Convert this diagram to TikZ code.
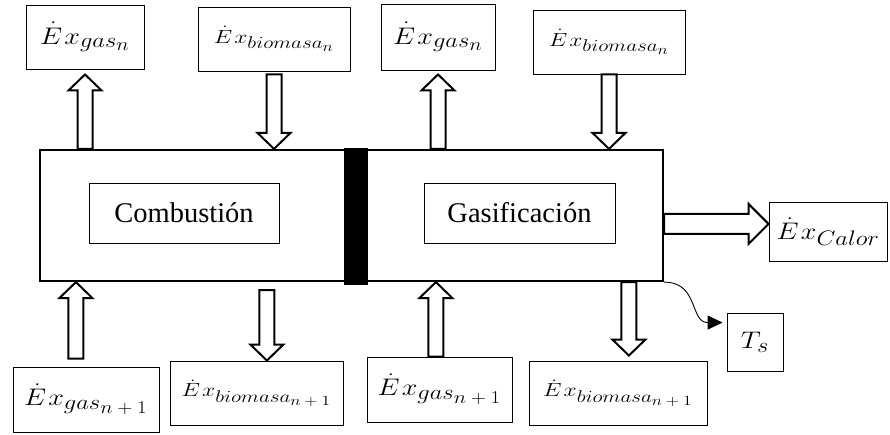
\RequirePackage{fix-cm}
\documentclass[tikz,border=0pt]{standalone}
\usepackage[no-math]{fontspec}
\setmainfont{Liberation Serif}
\newfontfamily\timesx{Liberation Serif}
\usepackage{graphicx}
\usetikzlibrary{arrows.meta,calc}
\newcommand\sbx[2]{\mbox{\fontsize{#1}{#1}\selectfont$#2$}}
\newcommand\exbig[1]{{\fontsize{24}{28}\selectfont\scalebox{1.17}[1]{$#1$}}}
\newcommand\exsmall[1]{{\fontsize{19}{22}\selectfont\scalebox{1.24}[1]{$#1$}}}
\newcommand\Ed{\dot{E}\mkern1.5mu x}
\def\sw{7.5pt}\def\hw{16.5pt}\def\hl{16pt}
\newcommand\varrow[3]{%
  \draw[blockarr] let \p1=(#1), \p2=(#2) in
    ({\x1-\sw},\y1) -- ({\x1-\sw},{\y2-(#3)*\hl}) -- ({\x1-\hw},{\y2-(#3)*\hl})
    -- (\x1,\y2) -- ({\x1+\hw},{\y2-(#3)*\hl}) -- ({\x1+\sw},{\y2-(#3)*\hl})
    -- ({\x1+\sw},\y1) -- cycle;}
\newcommand\harrow[2]{%
  \draw[blockarr] let \p1=(#1), \p2=(#2) in
    (\x1,{\y1+10pt}) -- ({\x2-20pt},{\y1+10pt}) -- ({\x2-20pt},{\y1+20pt})
    -- (\x2,\y1) -- ({\x2-20pt},{\y1-20pt}) -- ({\x2-20pt},{\y1-10pt})
    -- (\x1,{\y1-10pt}) -- cycle;}
\begin{document}
\begin{tikzpicture}[x=1pt,y=-1pt,
  box/.style={draw, line width=0.9pt, inner sep=0pt, align=center},
  blockarr/.style={draw, fill=white, line width=2pt, line join=miter},
  mainbox/.style={draw, line width=2.2pt, inner sep=0pt}]
\useasboundingbox (0,0) rectangle (890,434);
% main container
\node[mainbox, minimum width=623pt, minimum height=131pt] (main) at (351.5,215.5) {};
\node[fill=black, inner sep=0pt, minimum width=24pt, minimum height=137pt] (wall) at (356,216.5) {};
% inner process boxes
\node[box, minimum width=190pt, minimum height=60pt] (comb) at (184,213)
  {\timesx\fontsize{28.5}{32}\selectfont Combustión};
\node[box, minimum width=191pt, minimum height=60pt] (gasi) at (519.5,213)
  {\timesx\fontsize{28.5}{32}\selectfont Gasificación};
% top boxes
\node[box, minimum width=118pt, minimum height=64pt] (b1) at (85,37)
  {\exbig{\Ed_{\sbx{21}{gas_{\sbx{18}{n}}}}}};
\node[box, minimum width=152pt, minimum height=64pt] (b2) at (274,39)
  {\exsmall{\Ed_{\sbx{17}{biomasa_{\sbx{14}{n}}}}}};
\node[box, minimum width=114pt, minimum height=66pt] (b3) at (438,37)
  {\exbig{\Ed_{\sbx{21}{gas_{\sbx{18}{n}}}}}};
\node[box, minimum width=152pt, minimum height=64pt] (b4) at (609,42)
  {\exsmall{\Ed_{\sbx{17}{biomasa_{\sbx{14}{n}}}}}};
% bottom boxes
\node[box, minimum width=146pt, minimum height=65pt] (c1) at (86,399.5)
  {\exbig{\Ed_{\sbx{21}{gas_{\sbx{18}{n+1}}}}}};
\node[box, minimum width=173pt, minimum height=64pt] (c2) at (256.5,393)
  {\exsmall{\Ed_{\sbx{17}{biomasa_{\sbx{14}{n+1}}}}}};
\node[box, minimum width=145pt, minimum height=65pt] (c3) at (439.5,389.5)
  {\exbig{\Ed_{\sbx{21}{gas_{\sbx{18}{n+1}}}}}};
\node[box, minimum width=178pt, minimum height=64pt] (c4) at (618,393)
  {\exsmall{\Ed_{\sbx{17}{biomasa_{\sbx{14}{n+1}}}}}};
% right boxes
\node[box, minimum width=118pt, minimum height=59pt] (calor) at (828,231.5)
  {\exbig{\Ed_{\sbx{21}{Calor}}}};
\node[box, minimum width=56pt, minimum height=58pt] (ts) at (755,342)
  {\exbig{T_{\sbx{21}{s}}}};
% arrow anchor points
\coordinate (p1) at ($(main.south west)+(37,0)$);
\coordinate (p2) at ($(main.south west)+(228,0)$);
\coordinate (p3) at ($(main.south west)+(397,0)$);
\coordinate (p4) at ($(main.south west)+(590,0)$);
\coordinate (q) at ($(main.north east)+(0,75)$);
% top arrows
\varrow{b1.south |- main.north}{$(b1.south)+(0,5)$}{1}
\varrow{$(b2.south)+(0,3)$}{b2.south |- main.north}{-1}
\varrow{b3.south |- main.north}{$(b3.south)+(0,4)$}{1}
\varrow{b4.south}{b4.south |- main.north}{-1}
% bottom arrows
\varrow{$(p1 |- c1.north)+(0,-8)$}{p1}{1}
\varrow{$(p2)+(0,8)$}{p2 |- c2.north}{-1}
\varrow{p3 |- c3.north}{p3}{1}
\varrow{p4}{$(p4 |- c4.north)+(0,-5)$}{-1}
% heat output
\harrow{q}{q -| calor.west}
% temperature signal
\coordinate (tstip) at ($(ts.north west)+(-4,10)$);
\draw[line width=0.9pt, -{Triangle[length=15pt,width=14pt]}]
  (main.south east) .. controls ($(main.south east)+(35,0)$) and ($(tstip)+(-33,0)$) .. (tstip);
\end{tikzpicture}
\end{document}
